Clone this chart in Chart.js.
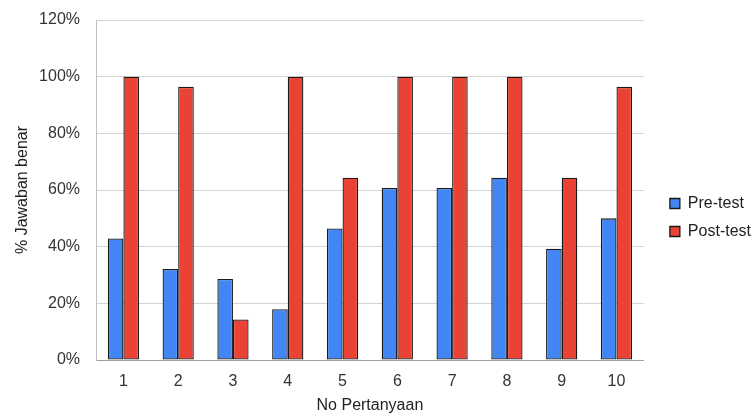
<!DOCTYPE html>
<html>
<head>
<meta charset="utf-8">
<script src="https://cdn.jsdelivr.net/npm/chart.js@4"></script>
<style>
html,body{margin:0;padding:0;background:#fff;}
#wrap{width:753px;height:415px;position:relative;}
</style>
</head>
<body>
<div id="wrap"><canvas id="c" width="753" height="415"></canvas></div>
<script>
const categories = ['1','2','3','4','5','6','7','8','9','10'];
const preTest  = [42.9, 32.1, 28.6, 17.9, 46.4, 60.7, 60.7, 64.3, 39.3, 50.0];
const postTest = [100, 96.4, 14.3, 100, 64.3, 100, 100, 100, 64.3, 96.4];
const yTicks = [0, 20, 40, 60, 80, 100, 120];
const seriesNames = ['Pre-test', 'Post-test'];
const xTitle = 'No Pertanyaan';
const yTitle = '% Jawaban benar';

const FONT = '"Liberation Sans", Arial, sans-serif';

const shiftLegend = {
  id: 'shiftLegend',
  afterLayout(chart) {
    const lg = chart.legend;
    if (lg) { lg.left += 14; lg.right += 14; }
  }
};

new Chart(document.getElementById('c'), {
  type: 'bar',
  data: {
    labels: categories,
    datasets: [
      { label: seriesNames[0], data: preTest, backgroundColor: '#4285f4', borderColor: '#1a1a1a', borderWidth: 1.3, borderSkipped: false },
      { label: seriesNames[1], data: postTest, backgroundColor: '#ea4335', borderColor: '#1a1a1a', borderWidth: 1.3, borderSkipped: false }
    ]
  },
  options: {
    responsive: false,
    animation: false,
    devicePixelRatio: 1,
    layout: { padding: { left: 0, top: 20, right: 6, bottom: 0 } },
    datasets: { bar: { categoryPercentage: 0.57, barPercentage: 1.0 } },
    plugins: {
      legend: {
        position: 'right',
        align: 'center',
        labels: {
          boxWidth: 10, boxHeight: 10, padding: 12,
          color: '#222',
          font: { family: FONT, size: 16 }
        }
      },
      tooltip: { enabled: false }
    },
    scales: {
      x: {
        grid: { display: false, drawTicks: false },
        border: { display: true, color: '#a0a0a0', width: 1 },
        ticks: { color: '#333', font: { family: FONT, size: 16 }, padding: 12, maxRotation: 0 },
        title: { display: true, text: xTitle, color: '#222', font: { family: FONT, size: 16 }, padding: { top: 0, bottom: 0 } },
        afterFit(s) { s.height = 55; }
      },
      y: {
        min: 0, max: 120,
        afterBuildTicks(s) { s.ticks = yTicks.map(v => ({ value: v })); },
        grid: { color: '#d4d4d4', drawTicks: true, tickLength: 12, tickColor: 'rgba(0,0,0,0)', lineWidth: 1 },
        border: { display: true, color: '#c0c0c0', width: 1 },
        ticks: { color: '#333', font: { family: FONT, size: 16 }, padding: 4, callback: v => v + '%' },
        title: { display: true, text: yTitle, color: '#222', font: { family: FONT, size: 16 }, padding: { top: 13, bottom: 0 } },
        afterFit(s) { s.width = 96; }
      }
    }
  },
  plugins: [shiftLegend]
});
</script>
</body>
</html>
